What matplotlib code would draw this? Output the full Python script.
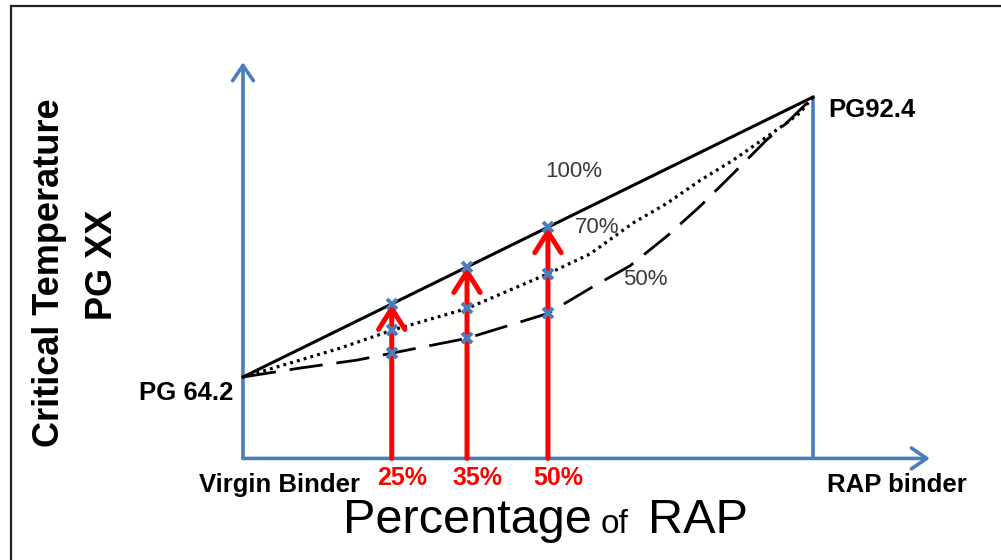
import matplotlib
matplotlib.use("Agg")
import matplotlib.pyplot as plt
from matplotlib.lines import Line2D

# blending chart: critical temperature vs percentage of RAP (schematic)
rap_pct = [0, 100]
pg_solid = [64.2, 92.4]

# 70% blending curve (dotted)
dot_x = [0, 5.3, 17.0, 26.1, 39.3, 53.5, 60.9, 68.4, 74.4, 80.2, 86.0, 91.9, 95.4, 97.7, 100]
dot_y = [64.2, 65.1, 67.1, 68.9, 71.1, 74.6, 76.6, 79.7, 81.7, 84.0, 86.05, 88.4, 89.8, 90.8, 92.4]

# 50% blending curve (dashed)
dash_x = [0, 10.0, 20.0, 26.1, 39.3, 53.5, 61.4, 67.9, 74.4, 80.2, 86.0, 91.9, 95.4, 100]
dash_y = [64.2, 65.1, 65.9, 66.6, 68.1, 70.6, 73.3, 75.4, 78.4, 81.4, 84.7, 88.1, 89.8, 92.4]

arrow_x = [26.1, 39.3, 53.5]
arrow_labels = ["25%", "35%", "50%"]
dot_hits = [68.9, 71.1, 74.6]
dash_hits = [66.6, 68.1, 70.6]

curve_labels = ["100%", "70%", "50%"]
curve_label_pos = [(53.0, 84.85), (58.2, 79.3), (66.7, 73.97)]

axis_base = 56.0
BLUE = "#4A7EBB"
RED = "#FF0000"
FONT = "Liberation Sans"


def solid_at(x):
    return pg_solid[0] + (pg_solid[1] - pg_solid[0]) * (x - rap_pct[0]) / (rap_pct[1] - rap_pct[0])


fig = plt.figure(figsize=(10.01, 5.6), dpi=100)
ax = fig.add_axes([0, 0, 1, 1])
ax.set_xlim(-42.63, 132.98)
ax.set_ylim(45.77, 102.17)
ax.axis("off")

# outer frame
fig.add_artist(Line2D([0.0105, 0.0105], [0, 0.9884], transform=fig.transFigure, color="#222222", lw=1.6))
fig.add_artist(Line2D([0.0105, 1], [0.9884, 0.9884], transform=fig.transFigure, color="#222222", lw=1.6))

# blue axes
blue_head = "->,head_length=1.1,head_width=0.75"
ax.annotate("", xy=(0, 95.9), xytext=(0, axis_base),
            arrowprops=dict(arrowstyle=blue_head, color=BLUE, lw=2.6, shrinkA=0, shrinkB=0))
ax.annotate("", xy=(120.5, axis_base), xytext=(0, axis_base),
            arrowprops=dict(arrowstyle=blue_head, color=BLUE, lw=2.6, shrinkA=0, shrinkB=0))
ax.plot([100, 100], [axis_base, pg_solid[1]], color=BLUE, lw=2.6, solid_capstyle="butt")

# curves
ax.plot(rap_pct, pg_solid, color="black", lw=2.2, zorder=3)
ax.plot(dot_x, dot_y, color="black", lw=2.3, linestyle=(0, (0.9, 1.3)), zorder=3)
ax.plot(dash_x, dash_y, color="black", lw=2.0, linestyle=(0, (12, 5)), zorder=3)

# red arrows and markers
for x, lab in zip(arrow_x, arrow_labels):
    ax.annotate("", xy=(x, solid_at(x)), xytext=(x, axis_base),
                arrowprops=dict(arrowstyle="->,head_length=1.5,head_width=0.95",
                                color=RED, lw=3.6, shrinkA=0, shrinkB=0), zorder=4)
    ax.text(x + 1.8, 54.0, lab, color=RED, fontsize=18, fontweight="bold",
            family=FONT, ha="center", va="center")

hit_x = arrow_x * 3
hit_y = [solid_at(x) for x in arrow_x] + dot_hits + dash_hits
ax.plot(hit_x, hit_y, linestyle="none", marker="x", color=BLUE, ms=7, mew=2.8, zorder=5)

for lab, (x, y) in zip(curve_labels, curve_label_pos):
    ax.text(x, y, lab, color="#3a3a3a", fontsize=16, family=FONT, ha="left", va="center")

# end point labels
ax.text(-1.75, 62.6, "PG 64.2", fontsize=18.5, fontweight="bold", family=FONT, ha="right", va="center")
ax.text(102.6, 91.1, "PG92.4", fontsize=18.5, fontweight="bold", family=FONT, ha="left", va="center")
ax.text(20.5, 53.3, "Virgin Binder", fontsize=18.5, fontweight="bold", family=FONT, ha="right", va="center")
ax.text(102.5, 53.3, "RAP binder", fontsize=18.5, fontweight="bold", family=FONT, ha="left", va="center")

# axis titles
ax.text(-33.9, 74.7, "Critical Temperature", fontsize=26, fontweight="bold", family=FONT,
        rotation=90, ha="center", va="center")
ax.text(-24.6, 75.5, "PG XX", fontsize=26, fontweight="bold", family=FONT,
        rotation=90, ha="center", va="center")

ax.text(61.2, 48.5, "Percentage", fontsize=35, family=FONT, ha="right", va="baseline")
ax.text(62.8, 48.5, "of", fontsize=24, family=FONT, ha="left", va="baseline")
ax.text(71.0, 48.5, "RAP", fontsize=35, family=FONT, ha="left", va="baseline")

fig.savefig("out.png", dpi=100)
